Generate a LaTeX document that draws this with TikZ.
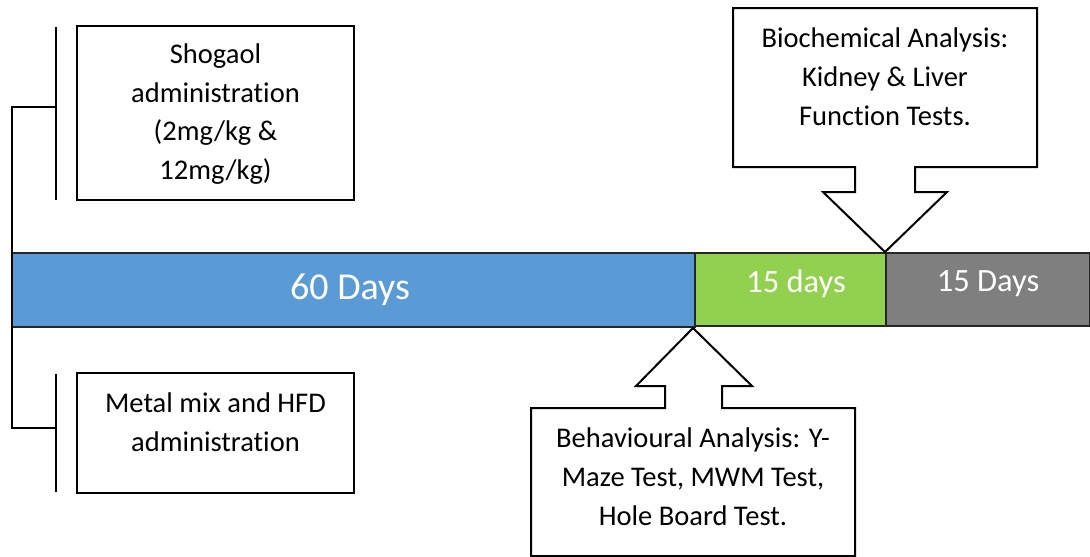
\documentclass[tikz,border=0pt]{standalone}
\usepackage{fontspec}
\setmainfont{Carlito}[Ligatures=NoCommon]
\definecolor{barblue}{HTML}{5B9BD5}
\definecolor{bargreen}{HTML}{92D050}
\definecolor{bargray}{HTML}{7F7F7F}
\begin{document}
\begin{tikzpicture}[x=1pt,y=-1pt,
  bar/.style={draw=black!85, line width=2pt},
  box/.style={draw=black, line width=2pt, fill=white},
  brk/.style={draw=black, line width=2pt},
  lbl/.style={align=center, font=\fontsize{28.5}{38.8}\selectfont, inner sep=0pt},
  barlbl/.style={text=white, inner sep=0pt}]
\useasboundingbox (0,0) rectangle (1090,557);
% bars
\path[bar, fill=barblue] (12,253) rectangle (695,327);
\path[bar, fill=bargreen] (695,253) rectangle (886,326);
\path[bar, fill=bargray] (886,253) rectangle (1090,326);
\node[barlbl, font=\fontsize{38}{42}\selectfont] (b60) at (350,290) {60 Days};
\node[barlbl, font=\fontsize{32.5}{36}\selectfont] (b15a) at (796,284) {15 days};
\node[barlbl, font=\fontsize{32.5}{36}\selectfont] (b15b) at (988,284) {15 Days};
% left brackets
\draw[brk] (56,27) -- (56,200);
\draw[brk] (56,107) -- (12,107) -- (12,428) -- (56,428);
\draw[brk] (56,374) -- (56,492);
% left boxes
\path[box] (77,26) rectangle (354,200);
\node[lbl] (shog) at (215.5,114) {Shogaol\\administration\\(2mg/kg \&\\12mg/kg)};
\path[box] (77,373) rectangle (354,493);
\node[lbl] (metal) at (215.5,422) {Metal mix and HFD\\administration};
% behavioural callout
\path[box] (531,556) -- (531,408) -- (665,408) -- (665,386) -- (636,386) -- (693,328)
  -- (752,386) -- (722,386) -- (722,408) -- (855,408) -- (855,556) -- cycle;
\node[lbl] (beh) at (693,477) {Behavioural Analysis: Y-\\Maze Test, MWM Test,\\Hole Board Test.};
% biochemical callout
\path[box] (733,8) -- (1037,8) -- (1037,167) -- (915,167) -- (915,192) -- (947,192)
  -- (885,252) -- (823,192) -- (855,192) -- (855,167) -- (733,167) -- cycle;
\node[lbl] (bio) at (885,77) {Biochemical Analysis:\\Kidney \& Liver\\Function Tests.};
\end{tikzpicture}
\end{document}
